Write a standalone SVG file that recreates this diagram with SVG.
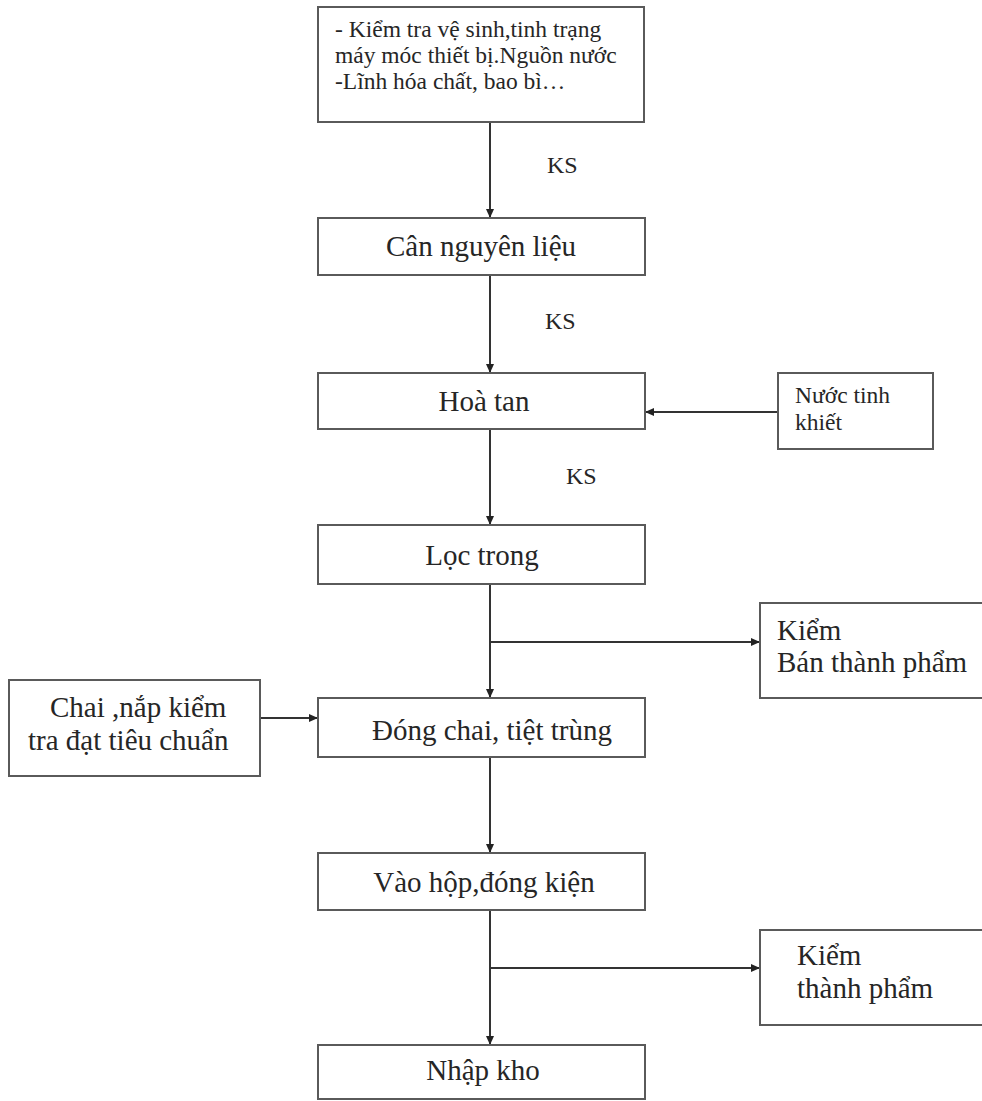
<svg xmlns="http://www.w3.org/2000/svg" width="982" height="1101" viewBox="0 0 982 1101">
<defs>
<style>
.box{fill:#fff;stroke:#5a5a5a;stroke-width:2}
.ln{fill:none;stroke:#333;stroke-width:2}
text{font-family:"Liberation Serif","Times New Roman",serif;fill:#262626}
.t29{font-size:29px}
.t23{font-size:23.5px}
.ks{font-size:24px}
</style>
<marker id="ah" markerUnits="userSpaceOnUse" markerWidth="10" markerHeight="10" refX="9" refY="5" orient="auto">
<path d="M0,1 L9,5 L0,9 z" fill="#222"/>
</marker>
</defs>
<rect width="982" height="1101" fill="#fff"/>
<g id="connectors">
<line class="ln" x1="490" y1="122" x2="490" y2="218" marker-end="url(#ah)"/>
<line class="ln" x1="490" y1="275" x2="490" y2="373" marker-end="url(#ah)"/>
<line class="ln" x1="778" y1="412" x2="645" y2="412" marker-end="url(#ah)"/>
<line class="ln" x1="490" y1="429" x2="490" y2="525" marker-end="url(#ah)"/>
<line class="ln" x1="490" y1="584" x2="490" y2="698" marker-end="url(#ah)"/>
<line class="ln" x1="490" y1="642" x2="760" y2="642" marker-end="url(#ah)"/>
<line class="ln" x1="260" y1="718" x2="318" y2="718" marker-end="url(#ah)"/>
<line class="ln" x1="490" y1="757" x2="490" y2="853" marker-end="url(#ah)"/>
<line class="ln" x1="490" y1="910" x2="490" y2="1045" marker-end="url(#ah)"/>
<line class="ln" x1="490" y1="968" x2="760" y2="968" marker-end="url(#ah)"/>
<text class="ks" x="547" y="173">KS</text>
<text class="ks" x="545" y="329">KS</text>
<text class="ks" x="566" y="484">KS</text>
</g>
<g id="n-kiemtra">
<rect class="box" x="318" y="7" width="326" height="115"/>
<text class="t23" x="335" y="37">- Kiểm tra vệ sinh,tinh trạng</text>
<text class="t23" x="335" y="63">máy móc thiết bị.Nguồn nước</text>
<text class="t23" x="335" y="89">-Lĩnh hóa chất, bao bì…</text>
</g>
<g id="n-can">
<rect class="box" x="318" y="218" width="327" height="57"/>
<text class="t29" x="481" y="256" text-anchor="middle">Cân nguyên liệu</text>
</g>
<g id="n-hoatan">
<rect class="box" x="318" y="373" width="327" height="56"/>
<text class="t29" x="484" y="411" text-anchor="middle">Hoà tan</text>
</g>
<g id="n-nuoc">
<rect class="box" x="778" y="373" width="155" height="76"/>
<text class="t23" x="795" y="403">Nước tinh</text>
<text class="t23" x="795" y="430">khiết</text>
</g>
<g id="n-loc">
<rect class="box" x="318" y="525" width="327" height="59"/>
<text class="t29" x="482" y="565" text-anchor="middle">Lọc trong</text>
</g>
<g id="n-kiembtp">
<rect class="box" x="760" y="603" width="230" height="95"/>
<text class="t29" x="777" y="640">Kiểm</text>
<text class="t29" x="777" y="672">Bán thành phẩm</text>
</g>
<g id="n-chai">
<rect class="box" x="9" y="680" width="251" height="96"/>
<text class="t29" x="50" y="717">Chai ,nắp kiểm</text>
<text class="t29" x="28" y="750">tra đạt tiêu chuẩn</text>
</g>
<g id="n-dongchai">
<rect class="box" x="318" y="698" width="327" height="59"/>
<text class="t29" x="372" y="740">Đóng chai, tiệt trùng</text>
</g>
<g id="n-vaohop">
<rect class="box" x="318" y="853" width="327" height="57"/>
<text class="t29" x="484" y="892" text-anchor="middle">Vào hộp,đóng kiện</text>
</g>
<g id="n-kiemtp">
<rect class="box" x="760" y="930" width="230" height="95"/>
<text class="t29" x="797" y="965">Kiểm</text>
<text class="t29" x="797" y="998">thành phẩm</text>
</g>
<g id="n-nhapkho">
<rect class="box" x="318" y="1045" width="327" height="54"/>
<text class="t29" x="483" y="1080" text-anchor="middle">Nhập kho</text>
</g>
</svg>
